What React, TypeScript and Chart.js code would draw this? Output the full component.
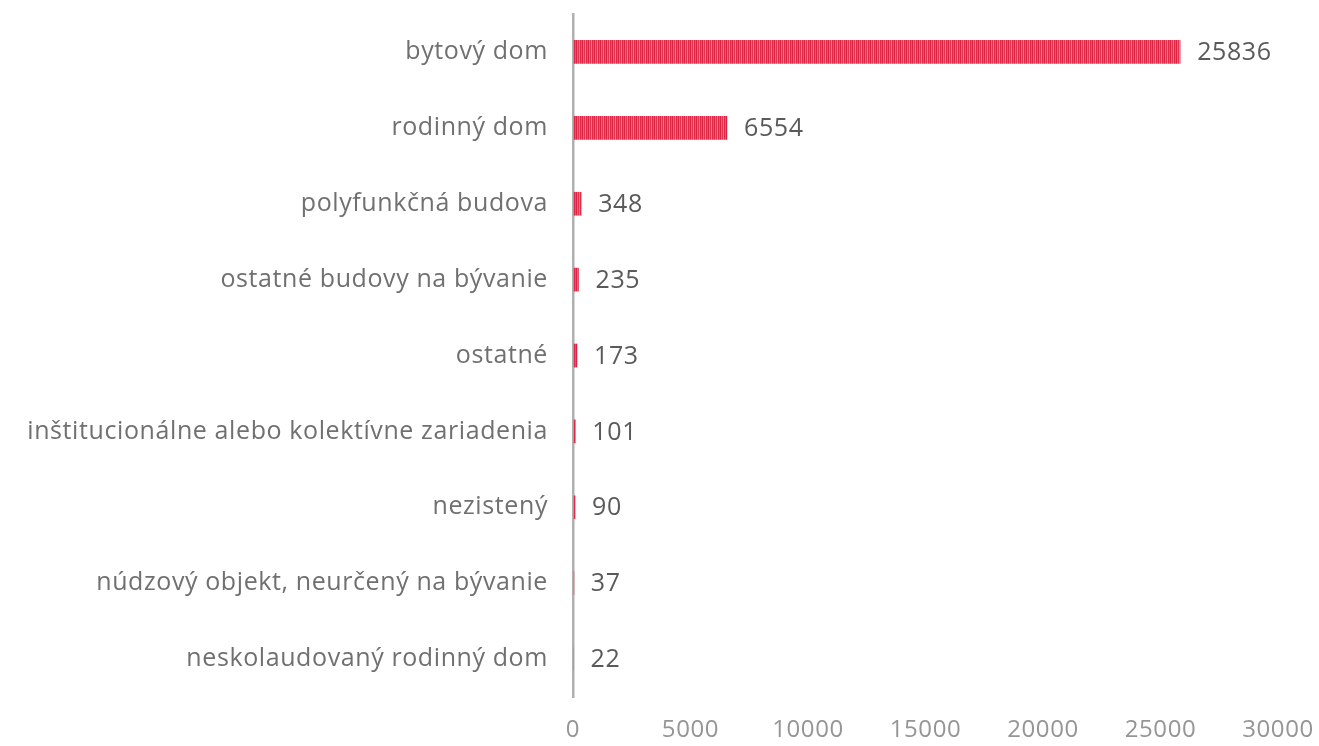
import React, { useEffect, useRef } from "react";
import { Chart, registerables } from "chart.js";

Chart.register(...registerables);

const categories: string[] = [
  "bytový dom",
  "rodinný dom",
  "polyfunkčná budova",
  "ostatné budovy na bývanie",
  "ostatné",
  "inštitucionálne alebo kolektívne zariadenia",
  "nezistený",
  "núdzový objekt, neurčený na bývanie",
  "neskolaudovaný rodinný dom",
];

const values: number[] = [25836, 6554, 348, 235, 173, 101, 90, 37, 22];

const xMin = 0;
const xMax = 30000;
const xStep = 5000;

const FONT = "'Open Sans', 'DejaVu Sans', sans-serif";
const stripeColors = ["#db2444", "#f0647c", "#e2344f", "#f37890", "#dc2a48", "#ea5069"];

function makeStripes(): CanvasPattern | string {
  const c = document.createElement("canvas");
  c.width = stripeColors.length;
  c.height = 4;
  const g = c.getContext("2d");
  if (!g) return "#e2385a";
  stripeColors.forEach((col, i) => {
    g.fillStyle = col;
    g.fillRect(i, 0, 1, 4);
  });
  const p = g.createPattern(c, "repeat");
  return p || "#e2385a";
}

const spacingPlugin = {
  id: "letterSpacing",
  beforeDraw(chart: any) {
    try {
      chart.ctx.letterSpacing = "0.6px";
    } catch (e) {}
  },
};

const valueLabelPlugin = {
  id: "valueLabels",
  afterDatasetsDraw(chart: any) {
    const ctx = chart.ctx;
    const meta = chart.getDatasetMeta(0);
    ctx.save();
    ctx.font = `25px ${FONT}`;
    ctx.fillStyle = "#5a5a5a";
    ctx.textAlign = "left";
    ctx.textBaseline = "middle";
    meta.data.forEach((bar: any, i: number) => {
      ctx.fillText(String(values[i]), bar.x + 17, bar.y + 1);
    });
    ctx.restore();
  },
};

export default function App() {
  const canvasRef = useRef<HTMLCanvasElement | null>(null);

  useEffect(() => {
    const canvas = canvasRef.current;
    if (!canvas) return;
    const chart = new Chart(canvas, {
      type: "bar",
      data: {
        labels: categories,
        datasets: [
          {
            data: values,
            backgroundColor: makeStripes() as any,
            borderWidth: 0,
            barThickness: 23,
          },
        ],
      },
      options: {
        indexAxis: "y",
        responsive: false,
        animation: false,
        layout: { padding: { top: 14, right: 41, left: 0, bottom: 0 } },
        plugins: {
          legend: { display: false },
          tooltip: { enabled: false },
        },
        scales: {
          x: {
            min: xMin,
            max: xMax,
            ticks: {
              stepSize: xStep,
              color: "#959595",
              font: { family: FONT, size: 24 },
              padding: 19,
              maxRotation: 0,
              callback: (v: any) => String(v),
            },
            grid: { display: false, drawTicks: false },
            border: { display: false },
            afterFit: (scale: any) => {
              scale.height = 49;
              scale.paddingLeft = 0;
              scale.paddingRight = 0;
            },
          },
          y: {
            ticks: {
              color: "#707070",
              font: { family: FONT, size: 25 },
              padding: 25,
            },
            grid: { display: false, drawTicks: false },
            border: { display: true, color: "#b0b0b0", width: 2.5 },
            afterFit: (scale: any) => {
              scale.width = 573;
              scale.paddingTop = 0;
              scale.paddingBottom = 0;
            },
          },
        },
      },
      plugins: [spacingPlugin, valueLabelPlugin],
    });
    return () => chart.destroy();
  }, []);

  return (
    <div style={{ position: "fixed", left: 0, top: 0, width: 1319, height: 746, background: "#ffffff" }}>
      <canvas ref={canvasRef} width={1319} height={746} style={{ width: 1319, height: 746 }} />
    </div>
  );
}
